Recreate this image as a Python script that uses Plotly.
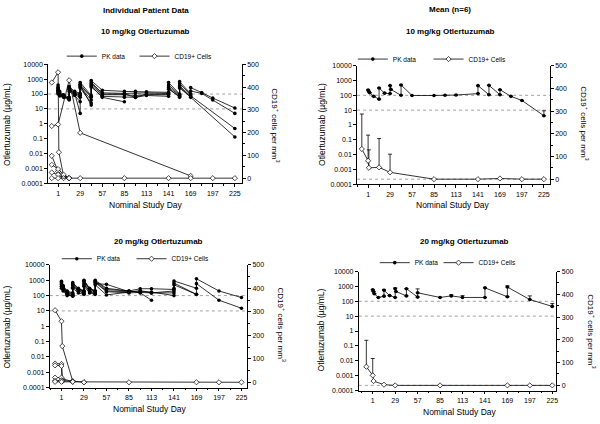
import plotly.graph_objects as go

W, H = 600, 424
FONT = "Liberation Sans"

LOG_TICKS = [1e-4, 1e-3, 1e-2, 1e-1, 1, 10, 100, 1000, 10000]
LOG_LABELS = ["0.0001", "0.001", "0.01", "0.1", "1", "10", "100", "1000", "10000"]
DAY_TICKS = [1, 29, 57, 85, 113, 141, 169, 197, 225]
CD19_TICKS = [0, 100, 200, 300, 400, 500]
REF_LEVELS = [100, 10]

# ---- 10 mg/kg, individual patients ----
IND10_PK_DAYS = [
    [1, 1, 3, 8, 15, 15, 22, 29, 29, 43, 43, 57, 85, 99, 113, 141, 141, 155, 155, 169, 169, 183, 197, 225],
    [1, 1, 3, 8, 15, 15, 22, 29, 29, 43, 43, 57, 85, 99, 113, 141, 141, 155, 155, 169, 169, 183, 197, 225],
    [1, 1, 3, 8, 15, 15, 22, 29, 29, 43, 43, 57, 85, 99, 113, 141, 141, 155, 155, 169, 225],
    [1, 1, 3, 8, 15, 15, 22, 29, 29, 43, 43, 57, 85, 99, 113, 141, 141, 155, 155, 169, 225],
    [1, 1, 3, 8, 15, 15, 22, 29, 29, 43, 43, 57, 85],
    [1, 1, 3, 8, 15, 15, 22, 29, 29, 43, 43, 57, 85, 99, 113, 141, 141, 155, 155, 169],
]
IND10_PK = [
    [400, 250, 150, 90, 60, 320, 150, 110, 600, 80, 800, 180, 150, 150, 140, 130, 590, 100, 680, 105, 270, 125, 54, 11.5],
    [300, 180, 110, 70, 50, 250, 120, 90, 450, 60, 500, 120, 110, 120, 120, 110, 410, 90, 500, 90, 160, 110, 40, 5],
    [200, 130, 90, 65, 45, 200, 90, 60, 300, 40, 400, 90, 90, 80, 90, 90, 300, 80, 350, 75, 0.48],
    [150, 100, 75, 60, 40, 150, 80, 30, 250, 25, 300, 70, 60, 60, 80, 70, 210, 70, 300, 60, 0.13],
    [250, 160, 100, 70, 55, 280, 110, 5, 400, 18, 350, 60, 30],
    [180, 120, 85, 65, 50, 220, 100, 80, 350, 70, 650, 100, 100, 60, 100, 100, 250, 60, 250, 65],
]
IND10_CD19_DAYS = [
    [-7, 1, 2, 8, 15],
    [-7, 1, 15, 29, 169],
    [-7, 1, 8, 15],
    [-7, 1, 8, 15],
    [-7, 1, 8],
    [-7, 1, 15, 29, 85, 141, 169, 197, 225],
]
IND10_CD19 = [
    [420, 465, 114, 8, 0],
    [229, 236, 430, 199, 10],
    [98, 30, 10, 0],
    [59, 40, 15, 0],
    [25, 15, 0],
    [0, 0, 0, 0, 0, 0, 0, 0, 0],
]

# ---- 10 mg/kg, mean (n=6) ----
MEAN10_PK_DAYS = [1, 2, 3, 8, 15, 15, 22, 29, 29, 30, 43, 43, 57, 85, 99, 113, 141, 141, 155, 155, 169, 169, 183, 197, 225]
MEAN10_PK = [230, 180, 150, 85, 55, 310, 140, 130, 450, 250, 100, 500, 97, 97, 100, 105, 130, 450, 110, 470, 110, 240, 85, 45, 4.2]
MEAN10_PK_ERR = [0, 0, 0, 0, 0, 0, 0, 0, 0, 0, 0, 0, 0, 0, 0, 0, 0, 0, 0, 0, 0, 0, 0, 0, 4.8]
MEAN10_CD19_DAYS = [-7, 1, 2, 15, 29, 85, 141, 169, 197, 225]
MEAN10_CD19 = [133, 81, 50, 52, 30, 0, 0, 3, 0, 0]
MEAN10_CD19_ERR = [154, 113, 79, 127, 80, 0, 0, 0, 0, 0]

# ---- 20 mg/kg, individual patients ----
IND20_PK_DAYS = [
    [1, 3, 8, 15, 15, 22, 29, 29, 36, 43, 43, 57, 85, 99, 113, 141, 141, 169, 169, 197, 225],
    [1, 3, 8, 15, 15, 22, 29, 29, 36, 43, 43, 57, 85, 99, 113, 141, 141, 169, 169, 197, 225],
    [1, 3, 8, 15, 15, 22, 29, 29, 36, 43, 43, 57, 85, 99, 113, 141, 141, 169],
    [1, 3, 8, 15, 15, 22, 29, 29, 36, 43, 43, 57, 85, 99, 113],
    [1, 3, 8, 15, 15, 22, 29, 29, 36, 43, 43, 57, 85],
    [1, 3, 8, 15, 15, 22, 29, 29, 36, 43, 43, 57, 85, 99, 113, 141, 141],
]
IND20_PK = [
    [870, 450, 200, 150, 700, 300, 200, 1000, 300, 200, 1000, 300, 200, 280, 280, 250, 900, 300, 1250, 200, 75],
    [600, 350, 150, 120, 500, 250, 180, 800, 250, 180, 800, 200, 180, 200, 150, 200, 650, 120, 600, 50, 15],
    [500, 300, 130, 100, 450, 220, 150, 600, 200, 150, 700, 180, 150, 160, 150, 150, 500, 120],
    [700, 400, 180, 130, 600, 280, 200, 900, 280, 200, 900, 250, 200, 150, 50],
    [400, 250, 120, 90, 350, 200, 130, 500, 180, 130, 600, 540, 180],
    [300, 200, 100, 100, 300, 150, 120, 400, 150, 120, 500, 110, 170, 200, 170, 100, 300],
]
IND20_CD19_DAYS = [
    [-7, 1, 2, 15, 29],
    [-7, 1, 2, 15],
    [-7, 1, 2, 15],
    [-7, 1, 2],
    [-7, 1, 2],
    [-7, 1, 15, 29, 85, 169, 197, 225],
]
IND20_CD19 = [
    [307, 260, 154, 5, 0],
    [80, 78, 15, 3],
    [72, 70, 8, 3],
    [20, 20, 6],
    [6, 8, 4],
    [2, 2, 2, 0, 0, 0, 0, 0],
]

# ---- 20 mg/kg, mean (n=6) ----
MEAN20_PK_DAYS = [1, 2, 3, 8, 15, 15, 22, 29, 29, 30, 43, 43, 57, 57, 85, 99, 113, 141, 141, 169, 169, 197, 225]
MEAN20_PK = [600, 450, 320, 180, 220, 550, 240, 180, 700, 450, 230, 700, 190, 370, 180, 230, 180, 180, 800, 200, 900, 130, 45]
MEAN20_PK_ERR = [0, 0, 0, 0, 0, 80, 0, 0, 100, 0, 0, 0, 0, 310, 0, 50, 60, 0, 0, 0, 200, 100, 25]
MEAN20_CD19_DAYS = [-7, 1, 2, 15, 29, 85, 169, 197, 225]
MEAN20_CD19 = [82, 44, 19, 3, 0, 0, 0, 0, 0]
MEAN20_CD19_ERR = [116, 74, 0, 0, 0, 0, 0, 0, 0]

# panel boxes in pixels (left, right, top, bottom) and x range
PANELS = [
    dict(box=(48.3, 242.7, 61.3, 182.3), xr=[-11.6, 233.9]),
    dict(box=(358.3, 551.7, 62.7, 183.3), xr=[-13, 232.6]),
    dict(box=(50, 248, 265.3, 390), xr=[-13.5, 232.1]),
    dict(box=(360, 558.3, 272, 393), xr=[-16.4, 230.2]),
]
# one legend per entry: (left px, centre y px) for PK, then CD19
LEGEND_POS = [
    [(62, 53), (135, 53)],
    [(354, 56), (430, 56)],
    [(57, 259), (132, 259)],
    [(376, 263), (440, 263)],
]
# right-axis title: (gap from right axis px, centre y px)
RTITLE_POS = [(34, 123), (35, 121), (35, 326), (36, 333)]


def ax_id(prefix, n):
    return prefix if n == 1 else f"{prefix}{n}"


def err(up):
    return dict(type="data", symmetric=False, array=up, arrayminus=[0] * len(up),
                color="black", thickness=0.8, width=2)


fig = go.Figure()


def add_panel(p, pk_days, pk_vals, cd_days, cd_vals, pk_err=None, cd_err=None):
    xa = ax_id("x", p)
    yl = ax_id("y", 2 * p - 1)
    yr = ax_id("y", 2 * p)
    for i, (d, v) in enumerate(zip(pk_days, pk_vals)):
        fig.add_trace(go.Scatter(
            x=d, y=v, xaxis=xa, yaxis=yl, mode="lines+markers", name="PK data",
            legend=ax_id("legend", 2 * p - 1), showlegend=(i == 0),
            line=dict(color="black", width=0.8),
            marker=dict(symbol="circle", size=3.6, color="black"),
            error_y=err(pk_err) if pk_err else None,
        ))
    for i, (d, v) in enumerate(zip(cd_days, cd_vals)):
        fig.add_trace(go.Scatter(
            x=d, y=v, xaxis=xa, yaxis=yr, mode="lines+markers", name="CD19+ Cells",
            legend=ax_id("legend", 2 * p), showlegend=(i == 0),
            line=dict(color="black", width=0.8),
            marker=dict(symbol="diamond", size=4, color="white",
                        line=dict(color="black", width=0.7)),
            error_y=err(cd_err) if cd_err else None,
        ))


add_panel(1, IND10_PK_DAYS, IND10_PK, IND10_CD19_DAYS, IND10_CD19)
add_panel(2, [MEAN10_PK_DAYS], [MEAN10_PK], [MEAN10_CD19_DAYS], [MEAN10_CD19],
          MEAN10_PK_ERR, MEAN10_CD19_ERR)
add_panel(3, IND20_PK_DAYS, IND20_PK, IND20_CD19_DAYS, IND20_CD19)
add_panel(4, [MEAN20_PK_DAYS], [MEAN20_PK], [MEAN20_CD19_DAYS], [MEAN20_CD19],
          MEAN20_PK_ERR, MEAN20_CD19_ERR)

tickfont = dict(family=FONT, size=7, color="black")
axis_common = dict(showline=True, linecolor="black", linewidth=0.8, ticks="outside",
                   ticklen=3, tickwidth=0.8, tickcolor="black", showgrid=False,
                   zeroline=False, tickfont=tickfont)

RTITLE = "CD19<sup>+</sup> cells per mm<sup>3</sup>"

layout = {}
shapes = []
annotations = []
for k, pn in enumerate(PANELS, start=1):
    l, r, t, b = pn["box"]
    xd = [l / W, r / W]
    yd = [1 - b / H, 1 - t / H]
    xa = ax_id("x", k)
    yl = ax_id("y", 2 * k - 1)
    yr = ax_id("y", 2 * k)
    layout[ax_id("xaxis", k)] = dict(
        axis_common, domain=xd, anchor=yl, range=pn["xr"], tickvals=DAY_TICKS,
        minor=dict(tick0=1, dtick=14, ticks="outside", ticklen=2, tickwidth=0.8, tickcolor="black"),
    )
    layout[ax_id("yaxis", 2 * k - 1)] = dict(
        axis_common, domain=yd, anchor=xa, type="log", range=[-4, 4],
        tickvals=LOG_TICKS, ticktext=LOG_LABELS,
    )
    layout[ax_id("yaxis", 2 * k)] = dict(
        axis_common, domain=yd, anchor=xa, overlaying=yl, side="right",
        range=[-22.5, 500], tickvals=CD19_TICKS,
        minor=dict(tick0=0, dtick=50, ticks="outside", ticklen=2, tickwidth=0.8, tickcolor="black"),
    )
    for lev in REF_LEVELS:
        shapes.append(dict(type="line", xref=f"{xa} domain", x0=0, x1=1, yref=yl, y0=lev, y1=lev,
                           line=dict(color="#8a8a8a", width=0.8, dash="dot"), layer="below"))
    if k in (2, 4):
        shapes.append(dict(type="line", xref=f"{xa} domain", x0=0, x1=1, yref=yr, y0=0, y1=0,
                           line=dict(color="#8a8a8a", width=0.8, dash="dot"), layer="below"))
    for j, (lx, ly) in enumerate(LEGEND_POS[k - 1]):
        layout[ax_id("legend", 2 * k - 1 + j)] = dict(
            x=lx / W, y=1 - ly / H, xanchor="left", yanchor="middle", orientation="h",
            font=dict(family=FONT, size=6.5, color="black"), bgcolor="rgba(0,0,0,0)",
            itemwidth=30, borderwidth=0,
        )
    gap, cy = RTITLE_POS[k - 1]
    annotations.append(dict(
        text=RTITLE, xref=f"{xa} domain", x=1 + gap / (r - l), yref="paper", y=1 - cy / H,
        xanchor="center", yanchor="middle", showarrow=False, textangle=90,
        font=dict(family=FONT, size=8, color="black"),
    ))


def label(text, px, py, size=8, bold=False, angle=0):
    return dict(text=f"<b>{text}</b>" if bold else text, x=px / W, y=1 - py / H,
                xref="paper", yref="paper", xanchor="center", yanchor="middle",
                showarrow=False, textangle=angle,
                font=dict(family=FONT, size=size, color="black"))


YTITLE = "Otlertuzumab (µg/mL)"
XTITLE = "Nominal Study Day"
annotations += [
    label("Individual Patient Data", 146, 7, 8, True),
    label("Mean (n=6)", 452, 6, 8, True),
    label("10 mg/kg Otlertuzumab", 146, 28, 8, True),
    label("10 mg/kg Otlertuzumab", 452, 28, 8, True),
    label("20 mg/kg Otlertuzumab", 159, 241, 8, True),
    label("20 mg/kg Otlertuzumab", 466, 241, 8, True),
    label(XTITLE, 146, 204, 8.5),
    label(XTITLE, 455, 204, 8.5),
    label(XTITLE, 150, 412, 8.5),
    label(XTITLE, 462, 415, 8.5),
    label(YTITLE, 7, 122, 8.5, angle=-90),
    label(YTITLE, 323, 122, 8.5, angle=-90),
    label(YTITLE, 7, 328, 8.5, angle=-90),
    label(YTITLE, 322, 331, 8.5, angle=-90),
]

fig.update_layout(
    width=W, height=H, margin=dict(l=0, r=0, t=0, b=0),
    paper_bgcolor="white", plot_bgcolor="white",
    font=dict(family=FONT, color="black"),
    shapes=shapes, annotations=annotations, **layout,
)

# page body margin off so the 600x424 figure fills the window exactly
fig.write_html("out.html", config={"displayModeBar": False},
               post_script="document.body.style.margin='0';")
